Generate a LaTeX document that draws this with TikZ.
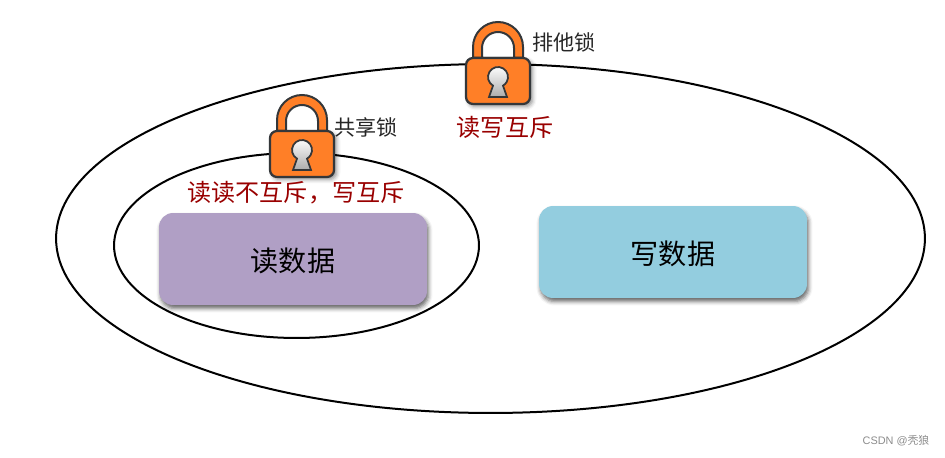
\documentclass[tikz,border=0pt]{standalone}
\usepackage{fontspec}
\setmainfont{Noto Sans CJK SC}
\newfontfamily\markfont{Liberation Sans}
\usepackage{tikz}
\usetikzlibrary{shapes.geometric, positioning, shadows, shadows.blur}
\definecolor{readfill}{HTML}{B09FC5}
\definecolor{writefill}{HTML}{93CDDF}
\definecolor{lockfill}{HTML}{FF7F27}
\definecolor{lockline}{HTML}{34373A}
\definecolor{mutexred}{HTML}{990000}
\tikzset{
  padlock/.pic={
    \path[fill=lockfill, draw=lockline, line width=0.04cm, even odd rule]
      (-25,19) -- (-25,30) arc[start angle=180, end angle=0, radius=25] -- (25,19) -- cycle
      (-16,19) -- (-16,29) arc[start angle=180, end angle=0, radius=16] -- (16,19) -- cycle;
    \path[fill=lockfill, draw=lockline, line width=0.045cm, rounded corners=0.14cm,
          blur shadow={shadow xshift=0.05cm, shadow yshift=-0.05cm, shadow blur radius=0.08cm, shadow opacity=45}]
      (-32,-27) rectangle (32,19);
    \path[top color=white, bottom color=gray!65, draw=lockline, line width=0.035cm]
      (-5,-8.66) arc[start angle=240, end angle=-60, radius=10]
      -- (9,-20) -- (-9,-20) -- cycle;
  }
}

\begin{document}
\begin{tikzpicture}[x=0.02cm, y=0.02cm,
  ring/.style={ellipse, draw=black, line width=0.04cm, inner sep=0pt},
  databox/.style={rectangle, rounded corners=0.28cm, minimum width=5.36cm, minimum height=1.84cm,
                  align=center, font=\fontsize{16}{18}\selectfont, text height=15.5pt,
                  blur shadow={shadow xshift=0.03cm, shadow yshift=-0.07cm, shadow blur radius=0.08cm, shadow opacity=60}},
  locklabel/.style={font=\fontsize{12}{14}\selectfont, text=black!85, inner sep=0pt},
  mutex/.style={font=\fontsize{13.7}{16}\selectfont, text=mutexred, inner sep=0pt}
]
\useasboundingbox (0,0) rectangle (945,457);

\node[ring, minimum width=17.38cm, minimum height=6.98cm] (outer_n) at (490.5,218.5) {};
\node[ring, minimum width=7.3cm, minimum height=3.7cm]    (inner_n) at (296.5,211.5) {};

\node[databox, fill=readfill]  (read_n)  at (293,198) {读数据};
\node[databox, fill=writefill] (write_n) at (673,205) {写数据};

\pic (lock_x) at (498,380) {padlock};
\pic (lock_s) at (302,307) {padlock};

\node[locklabel] (xlock_n) at (564,415) {排他锁};
\node[locklabel] (slock_n) at (366,330) {共享锁};
\node[mutex] (rw_n) at (505,330) {读写互斥};
\node[mutex] (rr_n) at (296,264) {读读不互斥，写互斥};

\node[font=\fontsize{6.2}{8}\selectfont\markfont, text=black!45, inner sep=0pt] (mark_n) at (896,16)
     {CSDN @{\rmfamily 秃狼}};
\end{tikzpicture}
\end{document}
